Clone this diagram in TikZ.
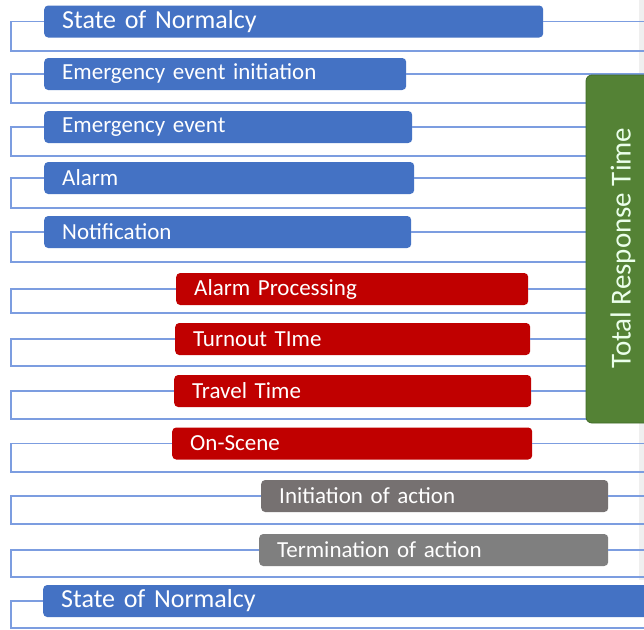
\documentclass[tikz,border=0pt]{standalone}
\usepackage{fontspec}
\setmainfont{Carlito}
\definecolor{barblue}{HTML}{4472C4}
\definecolor{barred}{HTML}{C00000}
\definecolor{bargrayA}{HTML}{767171}
\definecolor{bargrayB}{HTML}{7F7F7F}
\definecolor{conncol}{HTML}{7C9DE0}
\definecolor{greenfill}{HTML}{548235}
\definecolor{greendraw}{HTML}{3F6A29}
\definecolor{bandgray}{HTML}{EFEFEF}
\tikzset{
  x=1pt, y=-1pt,
  bar/.style={draw=none, rounded corners=4pt, anchor=west, inner xsep=18pt, inner ysep=0pt,
    minimum height=32pt, align=left, text=white, font=\fontsize{23}{26}\selectfont},
  bigbar/.style={bar, font=\fontsize{26}{29}\selectfont},
  conn/.style={draw=conncol, line width=1.3pt},
}
\begin{document}
\begin{tikzpicture}
\useasboundingbox (0,0) rectangle (644,629);
\fill[white] (0,0) rectangle (644,629);
\fill[bandgray] (639,0) rectangle (644,580);
% coordinates
\coordinate (R) at (644,0);
\coordinate (l1) at (11,51);   \coordinate (r1) at (644,51);
\coordinate (l2) at (11,103);  \coordinate (r2) at (644,103);
\coordinate (l3) at (11,156);  \coordinate (r3) at (644,156);
\coordinate (l4) at (11,208);  \coordinate (r4) at (644,208);
\coordinate (l5) at (11,262);  \coordinate (r5) at (644,262);
\coordinate (l6) at (11,313);  \coordinate (r6) at (644,313);
\coordinate (l7) at (11,366);  \coordinate (r7) at (644,366);
\coordinate (l8) at (11,419);  \coordinate (r8) at (644,419);
\coordinate (l9) at (11,472);  \coordinate (r9) at (644,472);
\coordinate (l10) at (11,524); \coordinate (r10) at (644,524);
\coordinate (l11) at (11,577); \coordinate (r11) at (644,577);
\coordinate (l12) at (11,628); \coordinate (r12) at (644,628);
% bars
\node[bigbar, fill=barblue, text width=463pt, minimum width=499pt] (b1) at (44,21.5) {State of Normalcy};
\node[bar, fill=barblue, text width=326pt, minimum width=362pt] (b2) at (44,74) {Emergency event initiation};
\node[bar, fill=barblue, text width=332pt, minimum width=368pt] (b3) at (44,127) {Emergency event};
\node[bar, fill=barblue, text width=334pt, minimum width=370pt] (b4) at (44,178) {Alarm};
\node[bar, fill=barblue, text width=331pt, minimum width=367pt] (b5) at (44,232) {Notification};
\node[bar, fill=barred, text width=316pt, minimum width=352pt] (b6) at (176,289) {Alarm Processing};
\node[bar, fill=barred, text width=319pt, minimum width=355pt] (b7) at (175,339) {Turnout TIme};
\node[bar, fill=barred, text width=321pt, minimum width=357pt] (b8) at (174,391) {Travel Time};
\node[bar, fill=barred, text width=324pt, minimum width=360pt] (b9) at (172,443.5) {On-Scene};
\node[bar, fill=bargrayA, text width=311pt, minimum width=347pt] (b10) at (261,496) {Initiation of action};
\node[bar, fill=bargrayB, text width=313pt, minimum width=349pt] (b11) at (259,550) {Termination of action};
\node[bigbar, fill=barblue, text width=574pt, minimum width=610pt] (b12) at (43,601) {State of Normalcy};
% connectors
\foreach \i in {1,...,12} {
  \draw[conn] (b\i.west) -| (l\i) -- (r\i);
}
\foreach \i in {1,...,11} {
  \draw[conn] (b\i.east) -- (b\i.east -| R);
}
% green box
\node[draw=greendraw, fill=greenfill, line width=0.8pt, rounded corners=6pt, minimum width=80pt, minimum height=348pt, inner sep=0pt] (tot) at (626,249) {};
\node[rotate=90, text=white!92!green, font=\fontsize{29}{32}\selectfont] (totlabel) at (623,248) {Total Response Time};
\end{tikzpicture}
\end{document}
